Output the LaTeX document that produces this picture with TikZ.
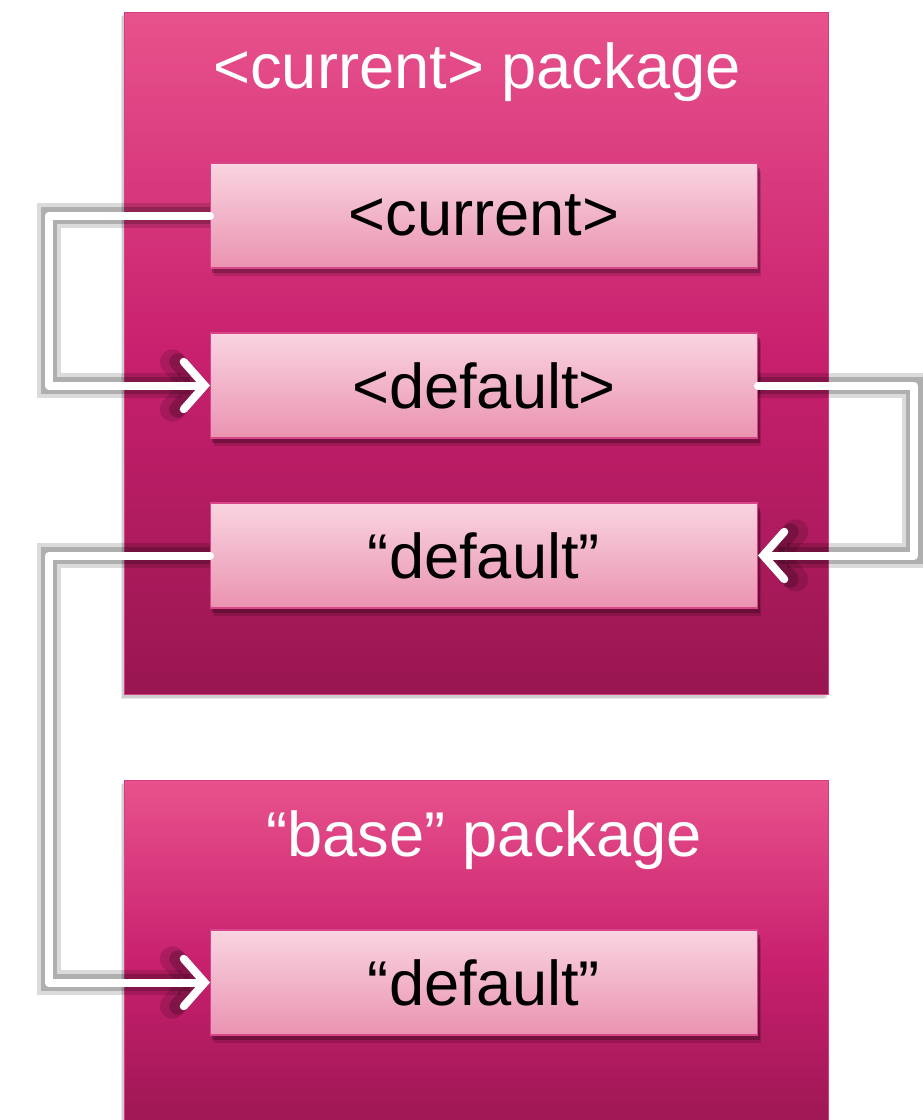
\documentclass[tikz,border=0pt]{standalone}
\usepackage{fontspec}
\setmainfont{Liberation Sans}
\usetikzlibrary{arrows.meta,shadows,positioning}
\definecolor{pkgtop}{RGB}{232,82,140}
\definecolor{pkgmid}{RGB}{200,32,110}
\definecolor{pkgbot}{RGB}{152,22,80}
\definecolor{pkgline}{RGB}{214,62,132}
\definecolor{itemtop}{RGB}{249,212,225}
\definecolor{itembot}{RGB}{234,147,177}
\definecolor{itemline}{RGB}{216,70,138}

\begin{document}
\begin{tikzpicture}[x = 0.02cm,
                    y = -0.02cm]
% styles of boxes and wires
\tikzset{pkgbox/.style={draw=pkgline,line width=0.6pt,shading=axis,top color=pkgtop,bottom color=pkgbot,middle color=pkgmid,
           minimum width=14.1cm,inner sep=0pt,outer sep=0pt,
           drop shadow={shadow xshift=-1pt,shadow yshift=-1.5pt,fill=black,opacity=.12},
           drop shadow={shadow xshift=-2pt,shadow yshift=-2.5pt,fill=black,opacity=.08}}}
\tikzset{itembox/.style={draw=itemline,line width=0.6pt,shading=axis,top color=itemtop,bottom color=itembot,
           minimum width=10.96cm,minimum height=2.1cm,inner sep=0pt,outer sep=0pt,
           font=\fontsize{36}{40}\selectfont,text=black,
           drop shadow={shadow xshift=2pt,shadow yshift=-4.5pt,fill=black,opacity=.15},
           drop shadow={shadow xshift=1pt,shadow yshift=-3pt,fill=black,opacity=.25}}}
\tikzset{pkgtitle/.style={text=white,font=\fontsize{36}{40}\selectfont}}
\tikzset{wire/.style={draw=white,line width=0.16cm,line join=round,line cap=round,
           -{Straight Barb[length=0.42cm,width=0.95cm,line cap=round]},
           preaction={draw=black,opacity=.14,line width=0.5cm},
           preaction={draw=black,opacity=.2,line width=0.34cm}}}
\useasboundingbox (0,0) rectangle (923,1120);
% bend lines
\coordinate (lx) at (49,0);
\coordinate (rx) at (914,0);
%packages
\node[pkgbox,minimum height=13.66cm] (pkgcur) at (476.5,353.5) {};
\node[pkgbox,minimum height=7.3cm] (pkgbase) at (476.5,962.5) {};
\node[pkgtitle] (curtitle) at (477,72) {<current> package};
\node[pkgtitle] (basetitle) at (484,840) {“base” package};
%items
\node[itembox] (cur) at (484,215.5) {<current>};
\node[itembox] (def) at (484,385.5) {<default>};
\node[itembox] (defq) at (484,555.5) {“default”};
\node[itembox] (basedef) at (484,982.5) {“default”};
%wires
\draw[wire] (cur.west) -- (cur.west -| lx) -- (def.west -| lx) -- (def.west);
\draw[wire] (def.east) -- (def.east -| rx) -- (defq.east -| rx) -- (defq.east);
\draw[wire] (defq.west) -- (defq.west -| lx) -- (basedef.west -| lx) -- (basedef.west);
\end{tikzpicture}
\end{document}
